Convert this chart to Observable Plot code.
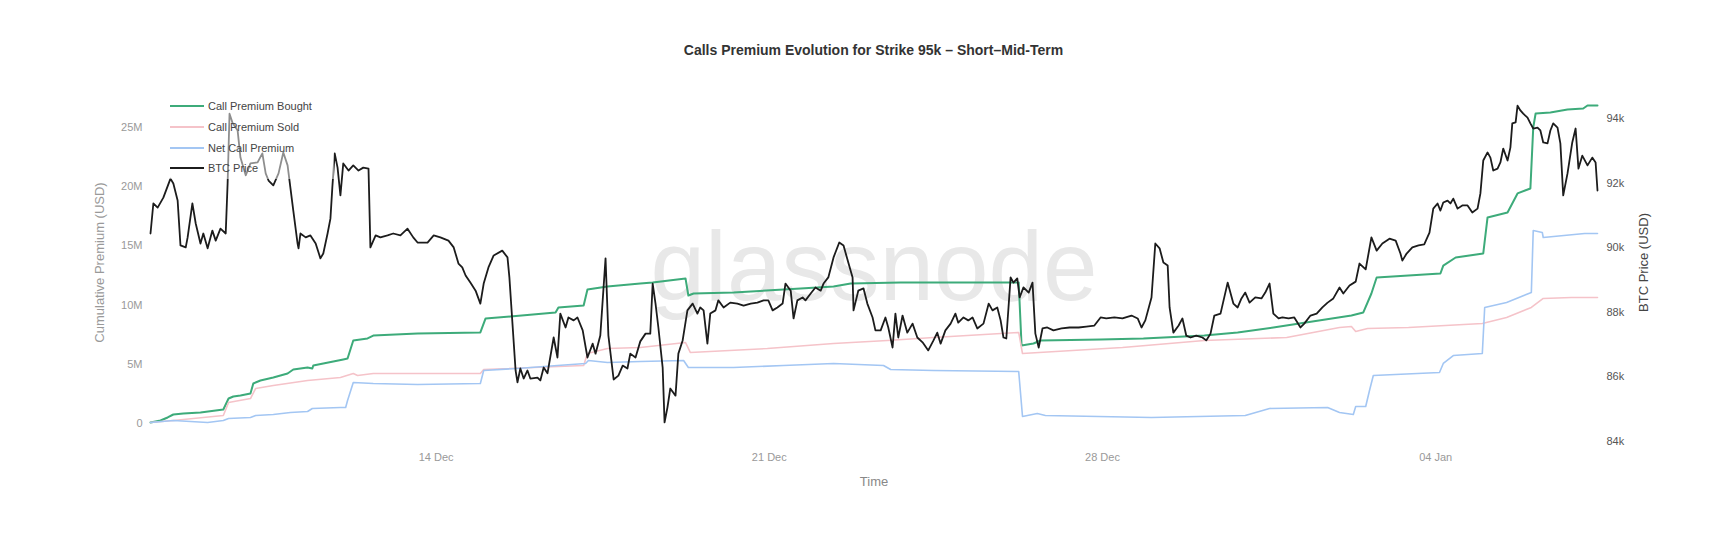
<!DOCTYPE html>
<html>
<head>
<meta charset="utf-8">
<script src="https://cdn.jsdelivr.net/npm/d3@7"></script>
<script src="https://cdn.jsdelivr.net/npm/@observablehq/plot@0.6"></script>
<style>
body{margin:0;background:#fff;font-family:"Liberation Sans",Arial,Helvetica,sans-serif;}
#wrap{position:relative;width:1736px;height:560px;overflow:hidden;}
#title{height:70px;position:relative;}
#title span{position:absolute;left:150px;width:1447px;top:42px;text-align:center;font-size:14px;font-weight:bold;color:#333;}
#legend{position:absolute;left:162px;top:95px;width:172px;height:84px;background:rgba(255,255,255,0.5);}
.item{position:absolute;left:8px;height:14px;font-size:11px;color:#444;display:flex;align-items:center;white-space:nowrap;}
.item i{display:inline-block;width:34px;margin-right:4px;}
#chart svg{display:block;}
</style>
</head>
<body>
<div id="wrap">
  <div id="title"><span>Calls Premium Evolution for Strike 95k – Short–Mid-Term</span></div>
  <div id="chart"></div>
  <div id="legend"></div>
</div>
<script>
// ---- data (days since 2025-12-08 00:00) ----
const startDate = new Date(2025, 11, 8);

const seriesNames = ["Call Premium Bought", "Call Premium Sold", "Net Call Premium", "BTC Price"];
const seriesColors = ["#3dab7a", "#f5c3c9", "#a3c6f3", "#1c1c1c"];

// Call Premium Bought (USD millions)
const boughtDay = [0,0.21,0.36,0.48,0.69,1.05,1.53,1.64,1.74,1.89,2.10,2.16,2.31,2.58,2.88,3.00,3.30,3.40,3.42,3.63,4.05,4.14,4.26,4.56,4.68,5.61,6.93,7.04,7.56,8.51,8.57,9.10,9.18,9.60,10.29,10.55,11.24,11.30,11.41,12.25,13.66,14.35,14.71,15.76,18.24,18.30,18.55,18.70,19.96,20.86,22.14,22.84,23.59,25.23,25.48,25.65,25.76,27.10,27.16,27.42,28.00,28.09,28.51,28.72,28.99,29.05,29.10,29.41,29.77,30.10,30.19,30.40];
const boughtM = [0.08,0.25,0.51,0.76,0.84,0.93,1.18,2.11,2.28,2.36,2.53,3.38,3.63,3.89,4.22,4.56,4.73,4.65,4.90,5.07,5.41,5.49,7.01,7.18,7.43,7.60,7.69,8.87,9.04,9.38,9.80,9.97,11.32,11.57,11.82,11.91,12.25,10.81,10.98,11.06,11.40,11.57,11.82,11.91,11.91,6.59,6.76,7.01,7.09,7.18,7.43,7.69,8.11,9.12,9.38,10.98,12.33,12.67,13.34,14.02,14.36,17.40,17.82,19.43,19.85,25.0,26.18,26.27,26.52,26.60,26.86,26.86];

// Call Premium Sold (USD millions)
const soldDay = [0,0.48,1.53,1.64,2.10,2.21,2.58,3.30,3.99,4.26,4.35,4.68,6.93,7.00,9.10,9.18,9.60,10.29,11.24,11.34,12.96,14.35,15.48,16.45,18.24,18.32,20.42,22.14,23.87,24.98,25.23,25.32,25.57,26.43,27.98,28.49,29.01,29.26,29.85,30.40];
const soldM = [0.08,0.25,0.68,1.77,2.11,2.96,3.21,3.63,3.89,4.22,4.05,4.22,4.22,4.56,4.90,5.91,6.33,6.42,6.84,6.00,6.33,6.76,7.01,7.26,7.69,5.91,6.42,7.01,7.26,8.11,8.19,7.77,8.02,8.11,8.45,8.95,9.80,10.56,10.64,10.64];

// Net Call Premium (USD millions)
const netDay = [0,0.48,1.20,1.53,1.64,2.10,2.21,2.58,2.94,3.30,3.40,3.99,4.10,4.14,4.26,4.68,5.61,6.93,7.00,7.71,8.55,9.14,9.20,9.60,10.29,11.20,11.30,12.25,13.30,14.35,15.40,15.55,16.45,18.24,18.32,18.63,18.80,21.03,23.00,23.51,24.73,24.98,25.27,25.32,25.53,25.61,25.69,27.08,27.16,27.37,27.98,28.03,28.49,29.01,29.05,29.24,29.26,30.13,30.40];
const netM = [0.08,0.25,0.08,0.25,0.42,0.51,0.68,0.76,0.93,1.01,1.27,1.35,1.35,1.94,3.46,3.38,3.29,3.38,4.48,4.65,4.90,5.07,5.32,5.15,5.24,5.32,4.73,4.73,4.90,5.07,4.90,4.56,4.48,4.39,0.59,0.84,0.68,0.51,0.68,1.27,1.35,0.93,0.76,1.44,1.44,2.79,4.05,4.31,5.07,5.74,5.91,9.80,10.22,11.06,16.30,16.13,15.71,16.05,16.05];

// BTC Price (USD thousands)
const btcDay = [0.00,0.06,0.15,0.27,0.42,0.48,0.57,0.63,0.74,0.78,0.88,0.95,1.05,1.11,1.20,1.30,1.37,1.47,1.58,1.62,1.66,1.72,1.83,1.89,2.00,2.10,2.25,2.35,2.42,2.48,2.58,2.69,2.79,2.88,3.00,3.09,3.11,3.15,3.26,3.36,3.47,3.57,3.63,3.72,3.78,3.82,3.87,3.93,3.99,4.05,4.16,4.26,4.37,4.47,4.58,4.62,4.73,4.83,4.98,5.10,5.25,5.40,5.52,5.61,5.82,5.95,6.09,6.26,6.37,6.47,6.55,6.62,6.72,6.83,6.93,7.00,7.10,7.21,7.39,7.50,7.54,7.67,7.71,7.77,7.84,7.92,7.98,8.13,8.19,8.26,8.34,8.47,8.55,8.61,8.72,8.78,8.89,8.97,9.08,9.18,9.29,9.35,9.45,9.56,9.62,9.73,9.83,9.92,10.02,10.08,10.19,10.29,10.40,10.50,10.55,10.61,10.67,10.76,10.80,10.86,10.92,11.03,11.09,11.18,11.28,11.39,11.49,11.55,11.62,11.70,11.76,11.87,11.93,12.04,12.18,12.33,12.46,12.61,12.75,12.88,12.98,13.07,13.17,13.28,13.34,13.45,13.51,13.59,13.70,13.76,13.87,13.97,14.08,14.14,14.24,14.35,14.47,14.56,14.66,14.75,14.77,14.87,14.98,15.06,15.17,15.23,15.34,15.44,15.50,15.59,15.65,15.71,15.80,15.90,16.01,16.11,16.22,16.34,16.45,16.53,16.60,16.70,16.81,16.91,16.97,17.08,17.18,17.27,17.37,17.50,17.61,17.69,17.79,17.86,17.92,17.98,18.07,18.13,18.21,18.26,18.34,18.45,18.53,18.59,18.66,18.74,18.84,18.97,19.14,19.31,19.50,19.66,19.83,19.96,20.08,20.25,20.42,20.61,20.74,20.82,20.90,21.03,21.11,21.20,21.28,21.37,21.41,21.49,21.60,21.68,21.76,21.85,21.97,22.10,22.18,22.27,22.35,22.48,22.63,22.75,22.84,22.92,23.00,23.09,23.21,23.34,23.42,23.51,23.59,23.70,23.78,23.91,24.03,24.16,24.24,24.37,24.50,24.62,24.73,24.85,24.98,25.06,25.19,25.32,25.40,25.53,25.65,25.76,25.88,26.03,26.16,26.26,26.30,26.39,26.51,26.64,26.76,26.87,26.95,27.04,27.10,27.16,27.25,27.31,27.37,27.46,27.56,27.67,27.77,27.88,27.94,28.00,28.09,28.15,28.21,28.30,28.36,28.42,28.51,28.57,28.61,28.68,28.72,28.78,28.84,28.93,28.99,29.05,29.14,29.20,29.26,29.35,29.41,29.47,29.56,29.62,29.68,29.77,29.87,29.94,30.00,30.08,30.19,30.29,30.36,30.40];
const btcK = [90.44,91.37,91.24,91.55,92.14,91.99,91.46,90.07,90.01,90.32,91.37,90.75,90.13,90.44,89.98,90.53,90.22,90.59,90.44,91.99,94.15,93.88,93.63,92.79,92.24,92.61,92.64,92.92,92.30,92.08,91.93,92.30,92.95,92.55,91.15,90.13,89.98,90.44,90.32,90.38,90.13,89.67,89.82,90.44,90.90,91.86,92.92,92.48,91.62,92.61,92.39,92.55,92.39,92.48,92.45,90.01,90.38,90.32,90.38,90.44,90.38,90.59,90.32,90.16,90.16,90.38,90.32,90.22,90.01,89.51,89.39,89.14,88.92,88.67,88.27,88.89,89.39,89.76,89.91,89.70,89.08,86.20,85.83,86.26,85.95,86.20,85.95,85.98,85.89,86.29,86.11,87.22,86.60,87.96,87.53,87.84,87.75,87.84,87.44,86.60,87.03,86.72,87.28,89.67,87.28,85.92,86.04,86.35,86.26,86.72,86.60,87.10,87.34,87.34,88.89,88.27,87.53,86.29,84.59,85.05,85.64,85.42,86.72,87.13,88.06,88.27,87.96,88.15,88.06,87.03,87.96,88.06,88.37,88.15,88.30,88.27,88.21,88.27,88.30,88.37,88.37,88.06,88.15,88.27,88.89,88.67,87.81,88.37,88.46,88.37,88.58,88.77,88.67,88.89,89.08,89.70,90.16,90.07,89.54,89.08,88.06,88.67,88.74,88.27,87.84,87.44,87.44,87.84,87.53,86.91,87.96,87.22,87.90,87.37,87.65,87.22,87.07,86.82,87.13,87.37,87.03,87.44,87.65,87.96,87.68,87.84,87.75,87.84,87.50,87.65,88.27,88.06,88.15,87.75,87.22,87.19,89.08,88.92,89.05,88.46,88.77,88.61,88.92,87.34,86.91,87.50,87.53,87.44,87.50,87.53,87.53,87.56,87.59,87.84,87.81,87.84,87.81,87.90,87.81,87.53,87.75,88.46,90.13,89.98,89.54,89.45,88.15,87.37,87.59,87.81,87.28,87.22,87.28,87.22,87.13,87.34,87.90,87.96,88.92,88.27,88.15,88.43,88.61,88.30,88.46,88.43,88.61,88.89,87.96,87.81,87.84,87.81,87.84,87.53,87.65,87.90,87.96,88.15,88.30,88.43,88.77,88.58,88.83,88.95,89.51,89.33,90.32,89.91,90.13,90.28,90.22,89.82,89.60,89.82,90.01,90.07,90.10,90.47,91.21,91.37,91.15,91.40,91.46,91.37,91.52,91.21,91.31,91.31,91.09,91.21,91.68,92.70,92.95,92.79,92.39,92.45,92.64,93.07,92.70,93.10,93.85,93.88,94.40,94.25,94.15,94.03,93.85,93.69,93.72,93.63,93.26,93.23,93.63,93.85,93.72,93.23,91.62,92.30,93.26,93.69,92.45,92.85,92.55,92.79,92.64,91.77];

// axis ticks
const xTickDates = ["2025-12-14", "2025-12-21", "2025-12-28", "2026-01-04"];
const premiumTicks = [0, 5, 10, 15, 20, 25];   // USD millions
const btcTicks = [84, 86, 88, 90, 92, 94];      // USD thousands

// ---- build ----
const toDate = d => new Date(startDate.getTime() + d * 864e5);
const rows = (days, vals) => days.map((d, i) => ({t: toDate(d), v: vals[i]}));
const bought = rows(boughtDay, boughtM);
const sold = rows(soldDay, soldM);
const net = rows(netDay, netM);
const btc = rows(btcDay, btcK);

const premDomain = [-1.52, 29.22];
const btcDomain = [84, 95.27];
const btcToPrem = d3.scaleLinear().domain(btcDomain).range(premDomain);
const parseDay = s => { const [y, m, d] = s.split("-").map(Number); return new Date(y, m - 1, d); };

const font = "Liberation Sans, Arial, Helvetica, sans-serif";

const chart = Plot.plot({
  width: 1736,
  height: 490,
  marginTop: 7,
  marginBottom: 119,
  marginLeft: 150,
  marginRight: 139,
  style: {fontFamily: font, fontSize: "11px", background: "#fff"},
  x: {type: "time", domain: [toDate(boughtDay[0]), toDate(boughtDay[boughtDay.length - 1])]},
  y: {domain: premDomain},
  marks: [
    Plot.text(["glassnode"], {text: d => d, frameAnchor: "middle", dy: 9, fontSize: 98, fill: "#e8e8e8", fontFamily: font}),
    Plot.line(bought, {x: "t", y: "v", stroke: seriesColors[0], strokeWidth: 2}),
    Plot.line(sold, {x: "t", y: "v", stroke: seriesColors[1], strokeWidth: 1.6}),
    Plot.line(net, {x: "t", y: "v", stroke: seriesColors[2], strokeWidth: 1.6}),
    Plot.line(btc, {x: "t", y: d => btcToPrem(d.v), stroke: seriesColors[3], strokeWidth: 1.8}),
    Plot.axisX(xTickDates.map(parseDay), {tickSize: 0, tickPadding: 12, tickFormat: d3.timeFormat("%d %b"), label: null, fill: "#999", fontSize: 11}),
    Plot.axisY(premiumTicks, {anchor: "left", tickSize: 0, tickPadding: 8, tickFormat: d => d === 0 ? "0" : d + "M", label: null, fill: "#999", fontSize: 11}),
    Plot.axisY(btcTicks.map(btcToPrem), {anchor: "right", tickSize: 0, tickPadding: 9, tickFormat: d => Math.round(btcToPrem.invert(d)) + "k", label: null, fill: "#555", fontSize: 11}),
    Plot.text(["Time"], {text: d => d, frameAnchor: "bottom", dy: 44, fontSize: 13, fill: "#888"}),
    Plot.text(["Cumulative Premium (USD)"], {text: d => d, frameAnchor: "left", textAnchor: "middle", dx: -51, dy: 3, rotate: -90, fontSize: 13, fill: "#999"}),
    Plot.text(["BTC Price (USD)"], {text: d => d, frameAnchor: "right", textAnchor: "middle", dx: 46, dy: 3, rotate: -90, fontSize: 13, fill: "#444"})
  ]
});
document.getElementById("chart").appendChild(chart);

// legend
const legend = document.getElementById("legend");
const rowCenters = [11, 32, 53, 73];
seriesNames.forEach((name, i) => {
  const item = document.createElement("div");
  item.className = "item";
  item.style.top = (rowCenters[i] - 7) + "px";
  const sw = document.createElement("i");
  sw.style.background = seriesColors[i];
  sw.style.height = i === 0 || i === 3 ? "2px" : "1.6px";
  item.appendChild(sw);
  item.appendChild(document.createTextNode(name));
  legend.appendChild(item);
});
</script>
</body>
</html>
